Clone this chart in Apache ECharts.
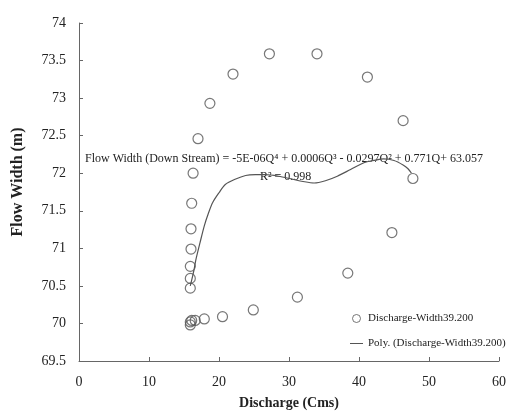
<!DOCTYPE html>
<html>
<head>
<meta charset="utf-8">
<script src="https://cdn.jsdelivr.net/npm/echarts@6/dist/echarts.min.js"></script>
<style>
  html, body { margin: 0; padding: 0; background: #fff; }
  #chart { width: 509px; height: 415px; }
</style>
</head>
<body>
<div id="chart"></div>
<script>
// observed points (discharge, width)
const discharge = [22.0, 18.7, 17.0, 16.3, 16.1, 16.0, 16.0, 15.9, 15.9, 15.9,
  15.9, 15.9, 16.1, 16.6, 17.9, 20.5, 24.9, 31.2, 38.4, 44.7,
  47.7, 46.3, 41.2, 34.0, 27.2]
const width = [73.32, 72.93, 72.46, 72.0, 71.6, 71.26, 70.99, 70.76, 70.6, 70.47,
  70.02, 69.98, 70.04, 70.04, 70.06, 70.09, 70.18, 70.35, 70.67, 71.21,
  71.93, 72.7, 73.28, 73.59, 73.59]

// fitted curve
const polyQ = [15.9, 16.4, 16.7, 17.3, 17.9, 18.5, 19.1, 20.0, 20.9, 22.3, 23.8, 25.2, 26.6, 28.5, 30.5, 32.0, 33.6, 35.2, 36.9, 38.8, 40.7, 42.1, 43.5, 45.0, 46.3, 47.0, 47.5]
const polyW = [70.5, 70.7, 70.85, 71.08, 71.3, 71.47, 71.61, 71.74, 71.85, 71.92, 71.97, 71.98, 71.98, 71.96, 71.92, 71.89, 71.87, 71.9, 71.96, 72.05, 72.14, 72.17, 72.19, 72.17, 72.11, 72.06, 72.0]

const xTicks = { min: 0, max: 60, step: 10 }
const yTicks = { min: 69.5, max: 74, step: 0.5 }

const scatterName = 'Discharge-Width39.200'
const polyName = 'Poly. (Discharge-Width39.200)'
const eqText = 'Flow Width (Down Stream) = -5E-06Q\u2074 + 0.0006Q\u00b3 - 0.0297Q\u00b2 + 0.771Q+ 63.057'
const r2Text = 'R\u00b2 = 0.998'

const serif = 'Liberation Serif'

const chart = echarts.init(document.getElementById('chart'), null, { renderer: 'canvas' })

chart.setOption({
  animation: false,
  backgroundColor: '#fff',
  grid: { left: 79, right: 7, top: 23, bottom: 53 },
  legend: {
    orient: 'vertical',
    left: 345,
    top: 308,
    itemGap: 14,
    itemWidth: 13,
    itemHeight: 8,
    textStyle: { fontFamily: serif, fontSize: 11, color: '#222' },
    data: [
      { name: scatterName, icon: 'circle', itemStyle: { color: '#fff', borderColor: '#555', borderWidth: 1 } },
      { name: polyName, icon: 'path://M0,0 H26 V2 H0 Z', itemStyle: { color: '#555' } }
    ]
  },
  xAxis: {
    type: 'value',
    min: xTicks.min,
    max: xTicks.max,
    interval: xTicks.step,
    name: 'Discharge (Cms)',
    nameLocation: 'middle',
    nameGap: 35,
    nameTextStyle: { fontFamily: serif, fontSize: 14, fontWeight: 'bold', color: '#222' },
    axisLine: { lineStyle: { color: '#666', width: 1 } },
    axisTick: { inside: true, length: 4, lineStyle: { color: '#666' } },
    axisLabel: { fontFamily: serif, fontSize: 14, color: '#222', margin: 14 },
    splitLine: { show: false }
  },
  yAxis: {
    type: 'value',
    min: yTicks.min,
    max: yTicks.max,
    interval: yTicks.step,
    name: 'Flow Width (m)',
    nameLocation: 'middle',
    nameRotate: 90,
    nameGap: 53,
    nameTextStyle: { fontFamily: serif, fontSize: 16, fontWeight: 'bold', color: '#222', padding: [0, 0, 0, 20] },
    axisLine: { show: true, lineStyle: { color: '#666', width: 1 } },
    axisTick: { show: true, inside: true, length: 4, lineStyle: { color: '#666' } },
    axisLabel: { fontFamily: serif, fontSize: 14, color: '#222', margin: 13 },
    splitLine: { show: false }
  },
  series: [
    {
      name: scatterName,
      type: 'scatter',
      symbol: 'circle',
      symbolSize: 10,
      itemStyle: { color: 'rgba(255,255,255,0)', borderColor: '#555', borderWidth: 1.2 },
      data: discharge.map((q, i) => [q, width[i]]),
      z: 3
    },
    {
      name: polyName,
      type: 'line',
      symbol: 'none',
      smooth: 0.3,
      itemStyle: { color: '#555' },
      lineStyle: { color: '#555', width: 1.2 },
      data: polyQ.map((q, i) => [q, polyW[i]]),
      z: 2
    }
  ],
  graphic: [
    {
      type: 'text',
      left: 85,
      top: 153,
      style: { text: eqText, fontFamily: serif, fontSize: 12, fill: '#222' }
    },
    {
      type: 'text',
      left: 260,
      top: 171,
      style: { text: r2Text, fontFamily: serif, fontSize: 12, fill: '#222' }
    }
  ]
})
</script>
</body>
</html>
